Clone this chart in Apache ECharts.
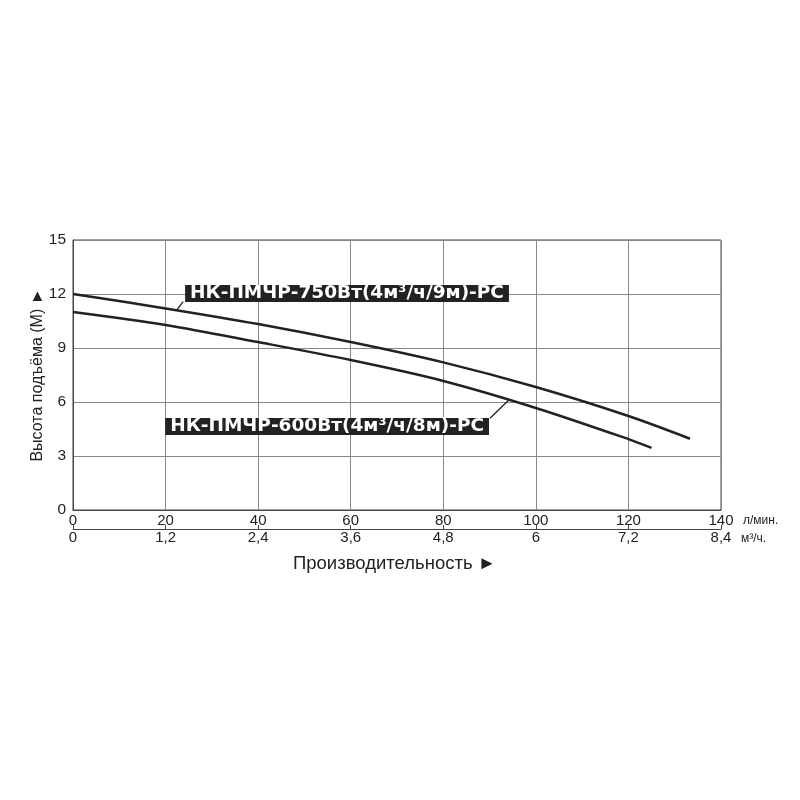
<!DOCTYPE html>
<html>
<head>
<meta charset="utf-8">
<script src="https://cdn.jsdelivr.net/npm/echarts@6/dist/echarts.min.js"></script>
<style>html,body{margin:0;padding:0;background:#fff}#c{width:800px;height:800px}</style>
</head>
<body>
<div id="c"></div>
<script>
// Flow in l/min and head in m
const pump750 = [[0,12],[20,11.2],[40,10.33],[60,9.33],[80,8.2],[100,6.83],[120,5.22],[133.3,3.96]];
const pump600 = [[0,11],[20,10.28],[40,9.33],[60,8.33],[80,7.17],[100,5.67],[120,3.94],[125,3.45]];
const name750 = 'НК-ПМЧР-750Вт(4м³/ч/9м)-РС';
const name600 = 'НК-ПМЧР-600Вт(4м³/ч/8м)-РС';
const flowLpmTicks = [0,20,40,60,80,100,120,140];
const flowM3Ticks = ['0','1,2','2,4','3,6','4,8','6','7,2','8,4'];
const headTicks = [0,3,6,9,12,15];

const chart = echarts.init(document.getElementById('c'));
const font = 'Liberation Sans, Arial, sans-serif';
const labelBox = {
  show: true, position: 'inside', color: '#fff', backgroundColor: '#222',
  fontFamily: 'DejaVu Sans', fontWeight: 'bold', fontSize: 18.5, lineHeight: 17, padding: [0, 5, 0, 5]
};
chart.setOption({
  animation: false,
  backgroundColor: '#fff',
  grid: { left: 73, top: 240, width: 648, height: 270, show: true, borderColor: '#444', borderWidth: 1 },
  title: {
    text: 'Производительность ►', left: 288, top: 549,
    textStyle: { fontFamily: font, fontSize: 18.5, fontWeight: 'normal', color: '#222' }
  },
  xAxis: [{
    type: 'value', min: 0, max: 140, interval: 20, position: 'bottom',
    axisLine: { show: true, lineStyle: { color: '#444' } },
    axisTick: { show: false },
    splitLine: { show: true, lineStyle: { color: '#888', width: 1 } },
    axisLabel: { margin: 3, fontFamily: font, fontSize: 15, color: '#222',
      formatter: v => String(flowLpmTicks[Math.round(v / 20)]) },
    name: 'л/мин.', nameLocation: 'end', nameGap: 22,
    nameTextStyle: { fontFamily: font, fontSize: 12, color: '#222', verticalAlign: 'top', padding: [5, 0, 0, 0] }
  }, {
    type: 'value', min: 0, max: 140, interval: 20, position: 'bottom', offset: 19,
    axisLine: { show: true, onZero: false, lineStyle: { color: '#444' } },
    axisTick: { show: true, inside: true, length: 4, lineStyle: { color: '#444' } },
    splitLine: { show: false },
    axisLabel: { margin: 1, fontFamily: font, fontSize: 15, color: '#222',
      formatter: v => flowM3Ticks[Math.round(v / 20)] },
    name: 'м³/ч.', nameLocation: 'end', nameGap: 20,
    nameTextStyle: { fontFamily: font, fontSize: 12, color: '#222', verticalAlign: 'top', padding: [4, 0, 0, 0] }
  }],
  yAxis: {
    type: 'value', min: 0, max: 15, interval: 3,
    axisLine: { show: true, lineStyle: { color: '#444' } },
    axisTick: { show: false },
    splitLine: { show: true, lineStyle: { color: '#888', width: 1 } },
    axisLabel: { margin: 7, fontFamily: font, fontSize: 15.5, color: '#222',
      formatter: v => String(headTicks[Math.round(v / 3)]) },
    name: 'Высота подъёма (М) ►', nameLocation: 'middle', nameGap: 27, nameRotate: 90,
    nameMoveOverlap: false,
    nameTextStyle: { fontFamily: font, fontSize: 16, color: '#222' }
  },
  series: [{
    type: 'line', name: name750, data: pump750, smooth: 0.3, symbol: 'none',
    lineStyle: { color: '#222', width: 2.5 },
    markPoint: {
      symbol: 'circle', symbolSize: 1, itemStyle: { color: 'rgba(0,0,0,0)' },
      data: [{ coord: [59.2, 12.03], label: Object.assign({ formatter: name750 }, labelBox) }]
    },
    markLine: {
      symbol: 'none', silent: true, label: { show: false },
      lineStyle: { color: '#222', width: 1.3, type: 'solid' },
      data: [[{ coord: [23.8, 11.58] }, { coord: [22.4, 11.1] }]]
    }
  }, {
    type: 'line', name: name600, data: pump600, smooth: 0.3, symbol: 'none',
    lineStyle: { color: '#222', width: 2.5 },
    markPoint: {
      symbol: 'circle', symbolSize: 1, itemStyle: { color: 'rgba(0,0,0,0)' },
      data: [{ coord: [54.9, 4.64], label: Object.assign({ formatter: name600 }, labelBox) }]
    },
    markLine: {
      symbol: 'none', silent: true, label: { show: false },
      lineStyle: { color: '#222', width: 1.3, type: 'solid' },
      data: [[{ coord: [90.1, 5.1] }, { coord: [94.1, 6.1] }]]
    }
  }]
});
</script>
</body>
</html>
